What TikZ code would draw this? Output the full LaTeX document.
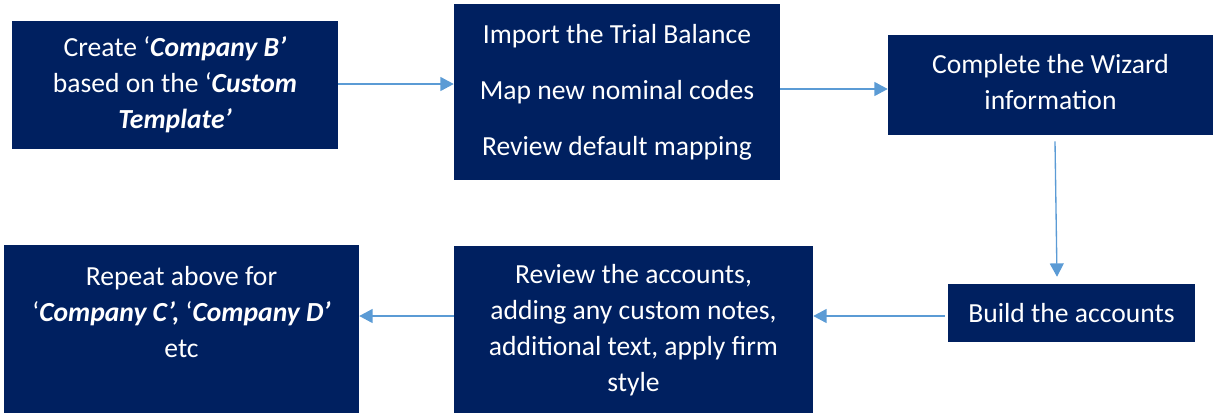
\documentclass[tikz,border=0pt]{standalone}
\usepackage{fontspec}
\setmainfont{Carlito}
\usetikzlibrary{arrows.meta,calc}
\definecolor{navy}{HTML}{002060}
\definecolor{arrowblue}{HTML}{5B9BD5}
\tikzset{
  box/.style={fill=navy, text=white, align=center, inner sep=0pt,
    font=\fontsize{20.7}{27}\selectfont},
  arr/.style={draw=arrowblue, line width=1pt, -{Triangle[length=10pt,width=10.5pt]}},
}
\newcommand{\bi}[1]{\textbf{\textit{#1}}}
\begin{document}
\begin{tikzpicture}[x=0.75pt,y=-0.75pt]
\useasboundingbox (0,0) rectangle (1214,412);
\clip (0,0) rectangle (1214,412);
% boxes
\node[box, minimum width=244.5pt, minimum height=96pt] (a) at (175,85)
  {Create ‘\bi{Company B’}\\ based on the ‘\bi{Custom}\\ \bi{Template’}};
\node[box, minimum width=244.5pt, minimum height=132pt] (b) at (617,92)
  {Import the Trial Balance\\[15pt] Map new nominal codes\\[15pt] Review default mapping};
\node[box, minimum width=243.75pt, minimum height=75pt] (c) at (1050.5,85)
  {Complete the Wizard\\ information\rule[-4.5pt]{0pt}{4.5pt}};
\node[box, minimum width=185.25pt, minimum height=43.5pt] (d) at (1071.5,313)
  {Build the accounts};
\node[box, minimum width=269.25pt, minimum height=126pt] (e) at (633.5,330)
  {Review the accounts,\\ adding any custom notes,\\ additional text, apply firm\\ style};
\node[box, minimum width=266.25pt, minimum height=126.75pt] (f) at (181.5,329.5)
  {Repeat above for\\ ‘\bi{Company C’, }‘\bi{Company D’}\\ etc\\ \mbox{}};
% connector start points
\path ($(a.east)+(0,-1)$) coordinate (ab);
\path ($(b.east)+(0,-3)$) coordinate (bc);
\path ($(c.south)+(4.5,6)$) coordinate (cd1);
\path ($(d.north)+(-14.5,-7)$) coordinate (cd2);
\path ($(d.west)+(-3,3)$) coordinate (de);
\path ($(e.west)+(0,-14)$) coordinate (ef);
% connectors
\draw[arr] (ab) -- (ab -| b.west);
\draw[arr] (bc) -- (bc -| c.west);
\draw[arr] (cd1) -- (cd2);
\draw[arr] (de) -- (de -| e.east);
\draw[arr] (ef) -- (ef -| f.east);
\end{tikzpicture}
\end{document}
